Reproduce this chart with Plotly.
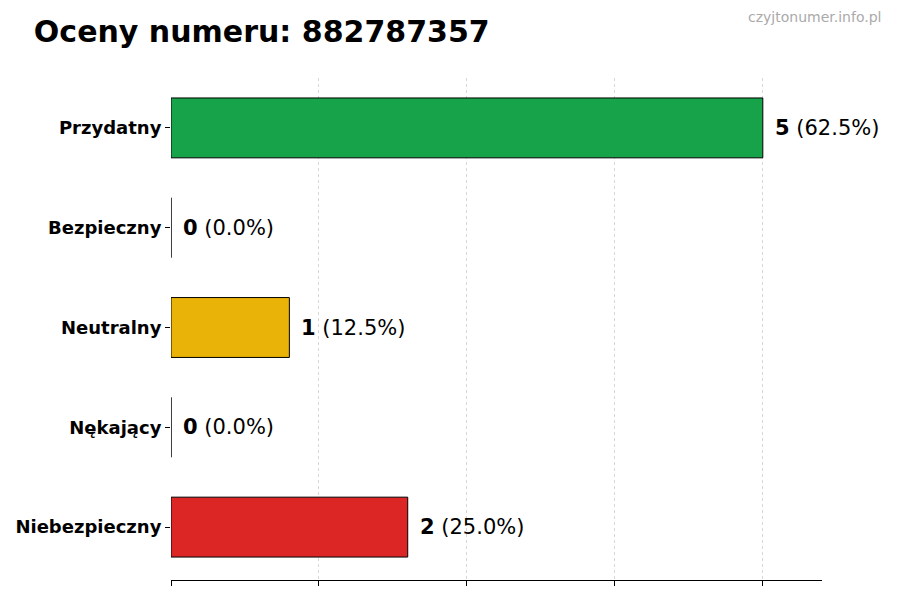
import plotly.graph_objects as go

# data
categories = ["Przydatny", "Bezpieczny", "Neutralny", "Nękający", "Niebezpieczny"]
counts = [5, 0, 1, 0, 2]
percents = [62.5, 0.0, 12.5, 0.0, 25.0]
colors = ["#16a34a", "#9ca3af", "#eab308", "#f97316", "#dc2626"]
x_ticks = [0, 1.25, 2.5, 3.75, 5]

y_pos = list(range(len(categories)))

fig = go.Figure()
fig.add_trace(go.Bar(
    x=counts,
    y=y_pos,
    orientation="h",
    width=0.6,
    marker=dict(color=colors, line=dict(color="black", width=1)),
    hoverinfo="skip",
))

# value labels next to bars
for i, (c, p) in enumerate(zip(counts, percents)):
    fig.add_annotation(
        x=c + 0.085, y=i, xref="x", yref="y",
        text="<b>%d</b> (%.1f%%)" % (c, p),
        showarrow=False, xanchor="left", yanchor="middle",
        font=dict(family="DejaVu Sans", size=21, color="black"),
    )

# watermark
fig.add_annotation(
    x=1.094, y=1.1215, xref="paper", yref="paper",
    xanchor="right", yanchor="middle", showarrow=False,
    text="czyjtonumer.info.pl",
    font=dict(family="DejaVu Sans", size=14, color="#aaaaaa"),
)

fig.update_layout(
    width=892, height=592,
    paper_bgcolor="white", plot_bgcolor="white",
    margin=dict(l=163, r=78, t=70, b=20),
    showlegend=False,
    font=dict(family="DejaVu Sans", color="black"),
    title=dict(
        text="<b>Oceny numeru: 882787357</b>",
        xref="container", yref="container",
        x=0.029, y=0.961, xanchor="left", yanchor="middle",
        font=dict(family="DejaVu Sans", size=30, color="black"),
    ),
)
fig.update_xaxes(
    range=[0, 5.5],
    tickvals=x_ticks, showticklabels=False,
    ticks="outside", ticklen=5, tickcolor="black",
    showline=True, linecolor="black", linewidth=1,
    showgrid=True, gridcolor="#d6d6d6", griddash="3px,3px", gridwidth=1,
    zeroline=False, layer="above traces", automargin=False,
)
fig.update_yaxes(
    range=[4.53, -0.5],
    tickvals=y_pos,
    ticktext=["<b>%s</b>" % c for c in categories],
    tickfont=dict(family="DejaVu Sans", size=18, color="black"),
    ticks="outside", ticklen=5, tickcolor="black",
    showline=False, showgrid=False, zeroline=False, automargin=False,
)

fig.write_html("out.html")
